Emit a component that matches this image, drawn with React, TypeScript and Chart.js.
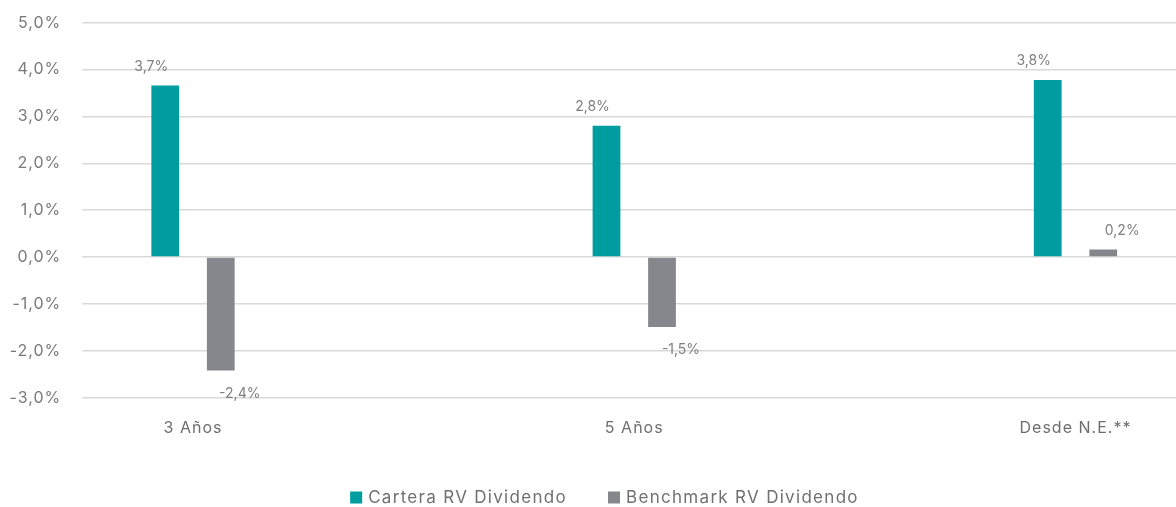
import React, { useEffect, useRef } from 'react';
import { Chart, registerables } from 'chart.js';
Chart.register(...registerables);

const categories = ['3 Años', '5 Años', 'Desde N.E.**'];
const seriesNames = ['Cartera RV Dividendo', 'Benchmark RV Dividendo'];
const carteraValues = [3.66, 2.8, 3.78];
const benchmarkValues = [-2.42, -1.49, 0.16];
const yMin = -3;
const yMax = 5;
const yStep = 1;

const fmt = (v: number) => v.toFixed(1).replace('.', ',') + '%';

const TEAL = '#009DA0';
const GRAY = '#85878C';
const FONT = 'Inter, "Open Sans", sans-serif';
const TEXT_SPACING = '1px';

const spacingPlugin = {
  id: 'letterSpacing',
  beforeLayout(chart: any) {
    chart.ctx.letterSpacing = TEXT_SPACING;
  },
  beforeDraw(chart: any) {
    chart.ctx.letterSpacing = TEXT_SPACING;
  },
};

const labelPlugin = {
  id: 'valueLabels',
  afterDatasetsDraw(chart: any) {
    const ctx = chart.ctx;
    const offsets = [-14, 19];
    ctx.save();
    ctx.letterSpacing = '0px';
    ctx.font = `14px ${FONT}`;
    ctx.fillStyle = '#7f7f7f';
    ctx.textAlign = 'center';
    ctx.textBaseline = 'middle';
    chart.data.datasets.forEach((ds: any, di: number) => {
      const meta = chart.getDatasetMeta(di);
      meta.data.forEach((el: any, i: number) => {
        const v = ds.data[i].y;
        const y = v >= 0 ? el.y - 19 : el.y + 23;
        ctx.fillText(fmt(v), el.x + offsets[di], y);
      });
    });
    ctx.restore();
  },
};

const legendPlugin = {
  id: 'customLegend',
  afterDraw(chart: any) {
    const ctx = chart.ctx;
    ctx.save();
    ctx.letterSpacing = '1.3px';
    ctx.font = `17px ${FONT}`;
    ctx.textBaseline = 'middle';
    ctx.textAlign = 'left';
    const box = 12;
    const boxGap = 6;
    const itemGap = 41;
    const items = chart.data.datasets.map((ds: any) => ({
      text: ds.label,
      color: ds.backgroundColor,
      w: box + boxGap + ctx.measureText(ds.label).width,
    }));
    const total = items.reduce((s: number, it: any) => s + it.w, 0) + itemGap * (items.length - 1);
    let x = chart.width / 2 + 16.5 - total / 2;
    const cy = 497.5;
    items.forEach((it: any) => {
      ctx.fillStyle = it.color;
      ctx.fillRect(x, cy - box / 2, box, box);
      ctx.fillStyle = '#707070';
      ctx.fillText(it.text, x + box + boxGap, cy);
      x += it.w + itemGap;
    });
    ctx.restore();
  },
};

export default function App() {
  const ref = useRef<HTMLCanvasElement>(null);
  useEffect(() => {
    const chart = new Chart(ref.current as HTMLCanvasElement, {
      type: 'bar',
      data: {
        datasets: [
          {
            label: seriesNames[0],
            data: categories.map((_, i) => ({ x: i, y: carteraValues[i] })),
            backgroundColor: TEAL,
            categoryPercentage: 0.2516,
            barPercentage: 0.5,
          },
          {
            label: seriesNames[1],
            data: categories.map((_, i) => ({ x: i, y: benchmarkValues[i] })),
            backgroundColor: GRAY,
            categoryPercentage: 0.2516,
            barPercentage: 0.5,
          },
        ],
      } as any,
      options: {
        animation: false,
        responsive: true,
        maintainAspectRatio: false,
        layout: { padding: { left: 0, right: 0, top: 22.7, bottom: 59.3 } },
        plugins: {
          legend: { display: false },
          tooltip: { enabled: false },
        },
        scales: {
          x: {
            type: 'linear',
            offset: false,
            min: -0.2509,
            max: 2.2278,
            afterBuildTicks: (scale: any) => {
              scale.ticks = categories.map((_, i) => ({ value: i }));
            },
            afterFit: (scale: any) => {
              scale.height = 50;
            },
            ticks: {
              callback: (v: any) => categories[v] ?? '',
              color: '#6e6e6e',
              font: { family: FONT, size: 16 },
              padding: 13,
              maxRotation: 0,
              autoSkip: false,
            },
            grid: { display: false },
            border: { display: false },
          },
          y: {
            min: yMin,
            max: yMax,
            afterFit: (scale: any) => {
              scale.width = 82.3;
            },
            ticks: {
              stepSize: yStep,
              callback: (v: any) => fmt(Number(v)),
              color: '#7a7a7a',
              font: { family: FONT, size: 16 },
              padding: 0,
            },
            grid: {
              color: '#d9d9d9',
              lineWidth: 1.5,
              drawTicks: true,
              tickLength: 21,
              tickColor: 'rgba(0,0,0,0)',
            },
            border: { display: false },
          },
        },
      } as any,
      plugins: [spacingPlugin, labelPlugin, legendPlugin],
    });
    return () => chart.destroy();
  }, []);
  return (
    <div style={{ position: 'fixed', left: 0, top: 0, width: 1176, height: 507, background: '#fff' }}>
      <canvas ref={ref} />
    </div>
  );
}
